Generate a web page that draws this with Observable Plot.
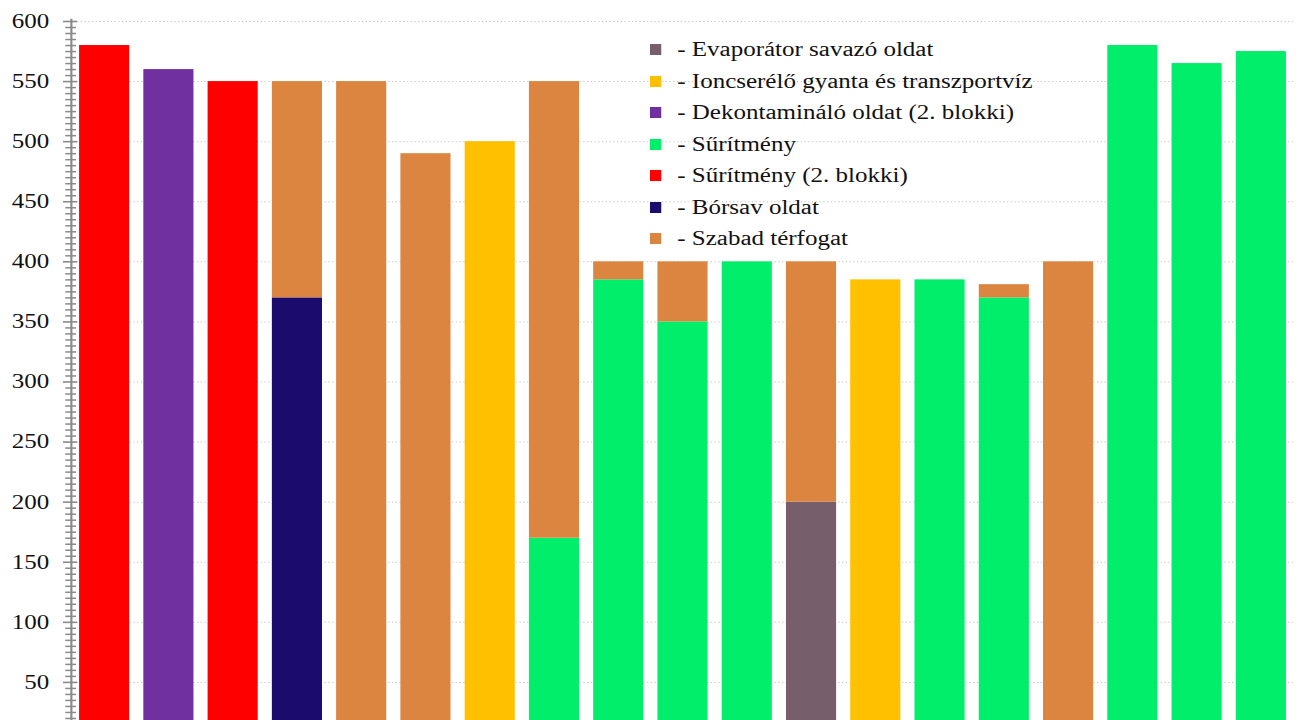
<!DOCTYPE html>
<html>
<head>
<meta charset="utf-8">
<script src="https://cdn.jsdelivr.net/npm/d3@7"></script>
<script src="https://cdn.jsdelivr.net/npm/@observablehq/plot@0.6"></script>
<style>
  html, body { margin: 0; padding: 0; background: white; overflow: hidden; }
  #wrap { position: relative; width: 1037px; height: 720px; transform: scaleX(1.25); transform-origin: 0 0; }
  #wrap svg, #wrap svg text { font-family: "Liberation Serif", "Times New Roman", serif !important; }
  #legend { position: absolute; left: 520px; top: 34px; font-family: "Liberation Serif", "Times New Roman", serif; font-size: 20px; color: #111; }
  .item { display: flex; align-items: center; height: 31.5px; white-space: nowrap; }
  .sw { width: 9.2px; height: 11px; margin-right: 12.6px; }
</style>
</head>
<body>
<div id="wrap"><div id="legend"></div></div>
<script>
// ---- data ----
const tanks = ["1","2","3","4","5","6","7","8","9","10","11","12","13","14","15","16","17","18","19"];
const contents = [
  "Sűrítmény (2. blokki)", "Dekontamináló oldat (2. blokki)", "Sűrítmény (2. blokki)", "Bórsav oldat",
  null, null, "Ioncserélő gyanta és transzportvíz", "Sűrítmény", "Sűrítmény", "Sűrítmény", "Sűrítmény",
  "Evaporátor savazó oldat", "Ioncserélő gyanta és transzportvíz", "Sűrítmény", "Sűrítmény", null,
  "Sűrítmény", "Sűrítmény", "Sűrítmény"
];
const contentValues = [580, 560, 550, 370, 0, 0, 500, 170, 385, 350, 400, 200, 385, 385, 370, 0, 580, 565, 575];
const freeVolume    = [0, 0, 0, 180, 550, 490, 0, 380, 15, 50, 0, 200, 0, 0, 11, 400, 0, 0, 0];
const freeLabel = "Szabad térfogat";

const legendLabels = [
  "Evaporátor savazó oldat", "Ioncserélő gyanta és transzportvíz", "Dekontamináló oldat (2. blokki)",
  "Sűrítmény", "Sűrítmény (2. blokki)", "Bórsav oldat", "Szabad térfogat"
];
const legendColors = ["#775e6b", "#ffc000", "#7030a0", "#00ee6a", "#ff0000", "#1b0b6c", "#dc8540"];

const yTicks = d3.range(50, 601, 50);
const yMinorTicks = d3.range(20, 601, 5).filter(v => v % 50 !== 0);

// ---- table ----
const rows = [];
tanks.forEach((t, i) => {
  if (contentValues[i] > 0) rows.push({tank: t, type: contents[i], value: contentValues[i]});
  if (freeVolume[i] > 0) rows.push({tank: t, type: freeLabel, value: freeVolume[i]});
});

const serif = "Liberation Serif, Times New Roman, serif";
const chart = Plot.plot({
  width: 1037,
  height: 720,
  marginLeft: 61.6,
  marginRight: 2.6,
  marginTop: 19,
  marginBottom: 0,
  style: {fontFamily: serif, fontSize: "20px", color: "#111", background: "white"},
  x: {type: "band", domain: tanks, range: [57.6, 1034.4], paddingInner: 0.22, paddingOuter: 0.11, round: false, axis: null},
  y: {domain: [0, 600], range: [742, 21], axis: null},
  color: {domain: legendLabels, range: legendColors},
  marks: [
    Plot.gridY(yTicks, {stroke: "#c4c4c4", strokeOpacity: 1, strokeDasharray: "1,2", strokeWidth: 1}),
    Plot.barY(rows, {x: "tank", y: "value", fill: "type", clip: true}),
    Plot.frame({anchor: "left", stroke: "#8a8a8a", strokeWidth: 1.7, dx: -5}),
    Plot.axisY(yMinorTicks, {tickSize: 8.6, dx: -0.8, text: null, label: null, stroke: "#8a8a8a", strokeWidth: 1.5}),
    Plot.axisY(yTicks, {tickSize: 11.2, tickPadding: 11.5, stroke: "#8a8a8a", strokeWidth: 1.6, fill: "#111", fontSize: 20, fontFamily: serif, label: null})
  ]
});
document.getElementById("wrap").prepend(chart);

// ---- legend ----
const legend = document.getElementById("legend");
legendLabels.forEach((lab, i) => {
  const item = document.createElement("div");
  item.className = "item";
  const sw = document.createElement("span");
  sw.className = "sw";
  sw.style.background = legendColors[i];
  const tx = document.createElement("span");
  tx.textContent = "- " + lab;
  item.appendChild(sw);
  item.appendChild(tx);
  legend.appendChild(item);
});
</script>
</body>
</html>
